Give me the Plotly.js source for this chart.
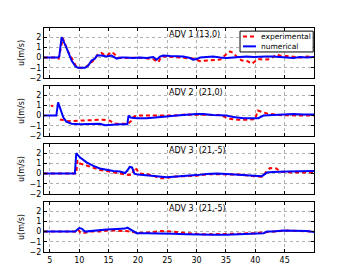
<!DOCTYPE html>
<html><head><meta charset="utf-8">
<script src="https://cdn.plot.ly/plotly-3.0.1.min.js"></script>
<style>html,body{margin:0;padding:0;background:#fff}#plot{width:350px;height:280px}</style>
</head><body><div id="plot"></div>
<script>
// Panel 1: ADV 1 (13,0)
const num1X = [4,6.4,6.6,7.0,7.8,8.7,9.4,9.8,11,11.5,12.1,12.7,13,13.8,14.7,15.5,16.4,17.2,18,19.2,20.3,21.5,22.6,23.2,23.75,24.3,25.5,26.6,27.7,28.9,29.4,30,30.6,31.7,32.8,34,35.1,36.25,37.4,38.5,39.7,40.8,41.9,43,44.2,45.3,46.5,47.6,48.75,50];
const num1Y = [0,0,0.1,2.0,1.0,-0.3,-0.9,-1.0,-1.0,-0.8,-0.3,-0.1,0.2,0.2,0.1,0.2,-0.1,0,0,-0.05,0,-0.05,0.05,-0.2,0.1,0.2,0.15,0.1,0.1,-0.05,-0.2,-0.15,0,0.05,0.1,0,-0.05,0,0.05,0.1,0.05,0.1,0.1,0.1,0.05,0.05,-0.05,0.05,0,0.05];
const exp1X = [4,6,6.5,7.2,8.1,9.5,10,11,11.8,12.4,13.2,13.8,14.4,15,15.4,15.9,16.6,17.5,20,21.5,22.6,23.5,24,24.9,26,27.2,28.3,29.4,30.6,31.7,32.8,34,34.8,35.7,36.25,36.8,37.7,38.5,39.4,39.9,40.5,41.4,42.5,43.6,44.2,45.3,46.5,47.6,48.75,50];
const exp1Y = [0,0,-0.1,1.9,0.6,-0.9,-1.0,-1.0,-0.6,-0.3,0.3,0.45,0.2,0.3,0.55,0.4,0,-0.05,0,-0.1,-0.15,-0.45,0.1,0.1,0.05,0,-0.1,-0.1,-0.35,-0.3,-0.25,-0.2,0.2,0.6,0.45,0.1,-0.3,-0.3,-0.6,-0.4,-0.15,-0.2,-0.15,0.3,0.2,0.15,0.05,0,0.1,0.05];

// Panel 2: ADV 2 (21,0)
const num2X = [4,6.1,6.4,6.8,7.3,7.8,8.7,10.1,11.8,13.5,14.4,15.2,16.9,18.2,18.4,18.75,19.8,21.5,23.2,24.9,26.6,28.3,30,31.1,32.8,35.1,36.25,38,39.7,40.5,41.4,43,44.8,46.5,48.2,50];
const num2Y = [0,0,1.3,0.6,-0.2,-0.6,-0.8,-0.85,-0.85,-0.8,-0.95,-0.9,-0.85,-0.85,0.0,-0.2,-0.25,-0.25,-0.2,-0.1,0,0.1,0.15,0.15,0.05,0,-0.15,-0.25,-0.3,-0.25,0,0.05,0.15,0.15,0.1,0.1];
const exp2X = [5.2,5.6,null,6.7,7,8,10,12,14,15.2,16,17,18.3,18.9,19.3,20,22,24,26,28,30,32,34,35.5,37,39,40,40.4,41,42,44,46,48,50];
const exp2Y = [0.95,0.95,null,-0.4,-0.4,-0.55,-0.5,-0.45,-0.4,-0.5,-0.8,-0.8,-0.8,-0.5,-0.1,0,0,0.05,0,0.1,0.1,0.1,0.05,-0.3,-0.4,-0.4,-0.35,0.5,0.4,0.2,0.05,0,0,0];

// Panel 3: ADV 3 (21,-5)
const num3X = [4,9.26,9.5,10.1,11.25,12.4,13.5,14.7,15.8,16.9,17.8,18.2,18.6,19,19.4,20,21.5,23.2,24.9,26.6,28.3,30,31.7,33.4,35.1,37.4,39.7,41.1,42,43,45.5,47.6,50];
const num3Y = [0,0,2.0,1.6,1.1,0.75,0.5,0.35,0.25,0.2,0.05,0.3,0.65,0.6,0,-0.1,-0.15,-0.25,-0.35,-0.3,-0.25,-0.15,-0.05,0,-0.05,-0.1,-0.2,-0.25,0.1,0.15,0.2,0.2,0.25];
const exp3X = [4,9.5,9.7,10.1,11.25,12.4,13.5,14.7,15.8,16.9,18,18.9,19.5,19.8,20.3,21.5,22.6,23.75,24.9,26,27.7,30,32.3,34.5,37.4,39.7,41.1,42.5,43.6,44.2,46.5,48.75,50];
const exp3Y = [0,0,1.3,1.0,0.8,0.6,0.35,0.25,0.1,0,-0.1,-0.15,0.6,0.4,0,-0.05,-0.2,-0.45,-0.45,-0.3,-0.25,-0.2,-0.05,-0.1,-0.1,-0.25,-0.3,0.55,0.5,0.2,0.1,0.1,0.1];

// Panel 4: ADV 3 (21,-5)
const num4X = [4,9.3,10,10.4,11,11.8,13,14.7,16.4,17.8,18.2,18.5,19.2,19.8,21.5,23.75,26,28.3,30.6,32.8,35.1,37.4,39.7,41.4,42,43,44.8,46.5,48.75,50];
const num4Y = [0,0,0.35,0.3,0,0.05,0.15,0.2,0.25,0.3,0.4,0.3,0,-0.15,-0.15,-0.15,-0.2,-0.25,-0.3,-0.3,-0.3,-0.25,-0.2,-0.15,0,0,0.1,0.1,0.05,-0.05];
const exp4X = [4,9.5,9.8,10.2,10.7,11.8,13.5,14.7,16.4,18,19.8,21.5,23.75,26,28.3,30.6,32.8,35.1,37.4,39.7,41.4,43,45.3,47.6,50];
const exp4Y = [0,0,0.2,-0.1,-0.15,0,0,0.1,0.1,0.05,-0.1,-0.1,0.05,0,-0.15,-0.25,-0.25,-0.25,-0.2,-0.15,-0.1,0,0.1,0.05,0];

const panelLabels = ["ADV 1 (13,0)", "ADV 2  (21,0)", "ADV 3  (21,-5)", "ADV 3  (21,-5)"];
const seriesNames = ["experimental", "numerical"];
const xTicks = [5,10,15,20,25,30,35,40,45];
const yTicks = [-2,-1,0,1,2];
const yTickText = ["\u22122","\u22121","0","1","2"];

const nums = [[num1X,num1Y],[num2X,num2Y],[num3X,num3Y],[num4X,num4Y]];
const exps = [[exp1X,exp1Y],[exp2X,exp2Y],[exp3X,exp3Y],[exp4X,exp4Y]];
const RED = "#ff0000", BLUE = "#0000ff", DASH = "4px,3px";

const traces = [];
for (let i = 0; i < 4; i++) {
  const sx = i === 0 ? "" : String(i+1);
  traces.push({x: exps[i][0], y: exps[i][1], type: "scatter", mode: "lines",
    name: seriesNames[0], showlegend: false, connectgaps: false,
    line: {color: RED, width: 2, dash: DASH}, xaxis: "x"+sx, yaxis: "y"+sx});
  traces.push({x: nums[i][0], y: nums[i][1], type: "scatter", mode: "lines",
    name: seriesNames[1], showlegend: false,
    line: {color: BLUE, width: 2}, xaxis: "x"+sx, yaxis: "y"+sx});
}

const domains = [[0.777,1],[0.518,0.741],[0.259,0.482],[0,0.223]];
const font = {family: "DejaVu Sans", size: 8, color: "#000"};
const layout = {
  width: 350, height: 280,
  margin: {l: 44, r: 36, t: 28, b: 28},
  paper_bgcolor: "#fff", plot_bgcolor: "#fff",
  font: font,
  showlegend: false,
  annotations: [],
  shapes: []
};
for (let i = 0; i < 4; i++) {
  const sx = i === 0 ? "" : String(i+1);
  layout["xaxis"+sx] = {
    domain: [0,1], range: [4,50], anchor: "y"+sx,
    tickmode: "array", tickvals: xTicks, ticktext: xTicks.map(String),
    showticklabels: i === 3, ticks: "inside", ticklen: 3, tickcolor: "#000",
    showgrid: true, gridcolor: "#b0b0b0", griddash: "dot", gridwidth: 1,
    showline: true, linecolor: "#000", linewidth: 1, mirror: "ticks",
    zeroline: false, tickfont: font
  };
  if (i > 0) layout["xaxis"+sx].matches = "x";
  layout["yaxis"+sx] = {
    domain: domains[i], range: [-2, 2.9], anchor: "x"+sx,
    tickmode: "array", tickvals: yTicks, ticktext: yTickText,
    ticks: "inside", ticklen: 3, tickcolor: "#000",
    showgrid: true, gridcolor: "#b0b0b0", griddash: "dot", gridwidth: 1,
    showline: true, linecolor: "#000", linewidth: 1, mirror: "ticks",
    zeroline: false, tickfont: font,
    title: {text: "u(m/s)", font: {family: "DejaVu Sans", size: 8}, standoff: 3}
  };
  layout.annotations.push({text: panelLabels[i], xref: "x"+sx, yref: "y"+sx,
    x: 25, y: 2.3, xanchor: "left", yanchor: "middle", showarrow: false,
    font: {family: "DejaVu Sans", size: 8, color: "#000"}});
}
// Legend box (panel 1, top right)
const lx0 = 0.726, lx1 = 0.997, ly0 = 0.893, ly1 = 0.986;
layout.shapes.push({type: "rect", xref: "paper", yref: "paper", x0: lx0, x1: lx1, y0: ly0, y1: ly1,
  line: {color: "#000", width: 1}, fillcolor: "#fff", layer: "above"});
const rows = [0.962, 0.918];
const styles = [{color: RED, width: 2, dash: DASH}, {color: BLUE, width: 2}];
for (let k = 0; k < 2; k++) {
  layout.shapes.push({type: "line", xref: "paper", yref: "paper", x0: 0.737, x1: 0.785,
    y0: rows[k], y1: rows[k], line: styles[k], layer: "above"});
  layout.annotations.push({text: seriesNames[k], xref: "paper", yref: "paper",
    x: 0.795, y: rows[k], xanchor: "left", yanchor: "middle", showarrow: false,
    font: {family: "DejaVu Sans", size: 7.5, color: "#000"}});
}
Plotly.newPlot("plot", traces, layout, {displayModeBar: false, staticPlot: true});
</script>
</body></html>
